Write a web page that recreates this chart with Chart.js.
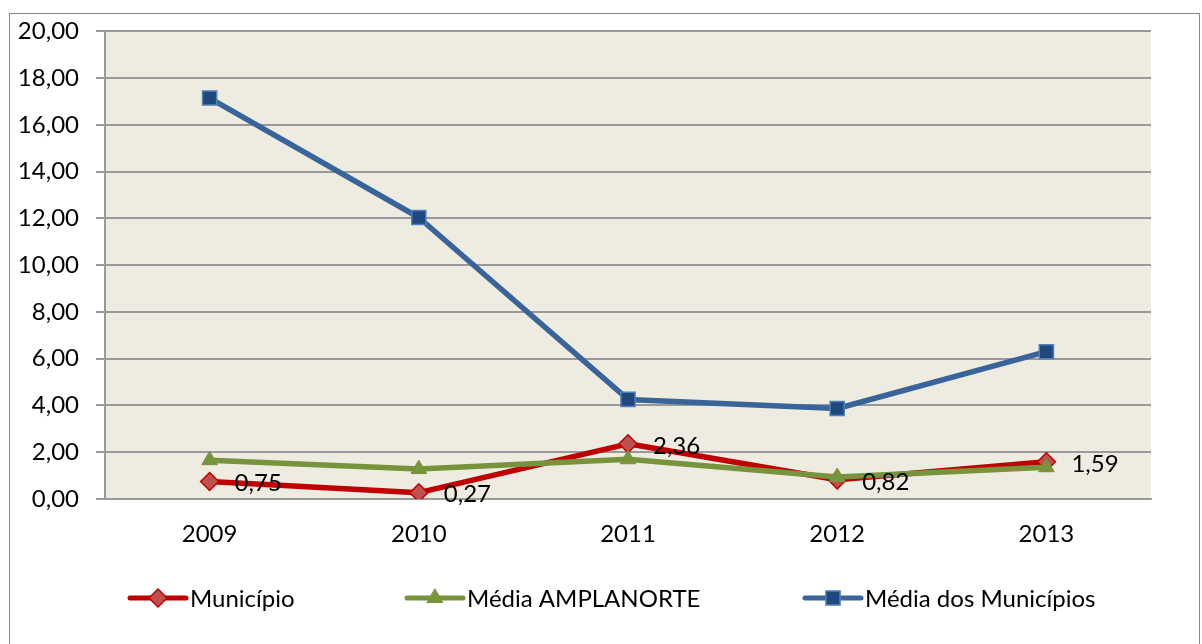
<!DOCTYPE html>
<html><head><meta charset="utf-8">
<script src="https://cdn.jsdelivr.net/npm/chart.js@4.4.1/dist/chart.umd.min.js"></script>
<style>html,body{margin:0;padding:0;background:#fff}#wrap{width:1202px;height:644px}</style>
</head><body><div id="wrap"><canvas id="c" width="1202" height="644"></canvas></div>
<script>
const categories = ['2009', '2010', '2011', '2012', '2013'];
const municipio = [0.75, 0.27, 2.36, 0.82, 1.59];
const mediaAmplanorte = [1.66, 1.28, 1.70, 0.94, 1.36];
const mediaMunicipios = [17.15, 12.04, 4.26, 3.87, 6.30];
const seriesNames = ['Município', 'Média AMPLANORTE', 'Média dos Municípios'];
const yMin = 0, yMax = 20, yStep = 2;

const FONT = 'Lato, "Open Sans", sans-serif';
const FS = 24;
const fmt = v => v.toFixed(2).replace('.', ',');

const bgPlugin = {
  id: 'bg',
  beforeDraw(chart) {
    const {ctx, chartArea: a} = chart;
    ctx.save();
    ctx.fillStyle = '#ffffff';
    ctx.fillRect(0, 0, chart.width, chart.height);
    ctx.fillStyle = '#EEECE1';
    ctx.fillRect(a.left, a.top, a.right - a.left, a.bottom - a.top);
    ctx.strokeStyle = '#8a8a8a';
    ctx.lineWidth = 1;
    ctx.strokeRect(9.5, 13.5, 1190, 700);
    ctx.restore();
  }
};

const labelPlugin = {
  id: 'dlabels',
  afterDatasetsDraw(chart) {
    const ctx = chart.ctx;
    const meta = chart.getDatasetMeta(0);
    const ds = chart.data.datasets[0];
    ctx.save();
    ctx.font = FS + 'px ' + FONT;
    ctx.fillStyle = '#000';
    ctx.textAlign = 'left';
    ctx.textBaseline = 'middle';
    meta.data.forEach((pt, i) => {
      ctx.fillText(fmt(ds.data[i]), pt.x + 25, pt.y + 2);
    });
    ctx.restore();
  }
};

const legendX = [130, 407, 805];
const legendPlugin = {
  id: 'customLegend',
  afterDraw(chart) {
    const ctx = chart.ctx;
    const y = 598;
    ctx.save();
    chart.data.datasets.forEach((ds, i) => {
      const x0 = legendX[i];
      ctx.strokeStyle = ds.borderColor;
      ctx.lineWidth = 5;
      ctx.lineCap = 'round';
      ctx.beginPath();
      ctx.moveTo(x0, y);
      ctx.lineTo(x0 + 56, y);
      ctx.stroke();
      ctx.fillStyle = ds.pointBackgroundColor;
      ctx.strokeStyle = ds.pointBorderColor;
      ctx.lineWidth = ds.pointBorderWidth;
      Chart.helpers.drawPoint(ctx, {pointStyle: ds.pointStyle, radius: ds.pointRadius, borderWidth: ds.pointBorderWidth, rotation: 0}, x0 + 28, y);
      ctx.fillStyle = '#000';
      ctx.font = FS + 'px ' + FONT;
      ctx.textAlign = 'left';
      ctx.textBaseline = 'middle';
      ctx.fillText(ds.label, x0 + 60, y + 1);
    });
    ctx.restore();
  }
};

new Chart(document.getElementById('c'), {
  type: 'line',
  data: {
    labels: categories,
    datasets: [
      {
        label: seriesNames[0], data: municipio, order: 3,
        borderColor: '#C00000', borderWidth: 5.5,
        pointStyle: 'rectRot', pointRadius: 9, pointBackgroundColor: '#C0504D', pointBorderColor: '#C00000', pointBorderWidth: 1.5,
        pointHoverRadius: 9
      },
      {
        label: seriesNames[1], data: mediaAmplanorte, order: 2,
        borderColor: '#77933C', borderWidth: 5.5,
        pointStyle: 'triangle', pointRadius: 9, pointBackgroundColor: '#77933C', pointBorderColor: '#77933C', pointBorderWidth: 1,
        pointHoverRadius: 9
      },
      {
        label: seriesNames[2], data: mediaMunicipios, order: 1,
        borderColor: '#38649A', borderWidth: 5.5,
        pointStyle: 'rect', pointRadius: 10, pointBackgroundColor: '#1F497D', pointBorderColor: '#4F81BD', pointBorderWidth: 1.5,
        pointHoverRadius: 10
      }
    ]
  },
  options: {
    responsive: false,
    animation: false,
    layout: {padding: {left: 0, top: 29, right: 51, bottom: 85}},
    elements: {line: {tension: 0, borderJoinStyle: 'round', borderCapStyle: 'round'}},
    plugins: {legend: {display: false}, tooltip: {enabled: false}},
    scales: {
      x: {
        offset: true,
        grid: {display: false, drawTicks: false},
        border: {display: true, color: '#999999', width: 2},
        ticks: {color: '#000', font: {family: FONT, size: FS}, padding: 21, maxRotation: 0},
        afterFit(s) { s.height = 60; }
      },
      y: {
        min: yMin, max: yMax,
        grid: {color: '#999999', lineWidth: 2, tickLength: 9, drawTicks: true},
        border: {display: true, color: '#999999', width: 2},
        ticks: {stepSize: yStep, color: '#000', font: {family: FONT, size: FS}, padding: 17, callback: v => fmt(v)},
        afterFit(s) { s.width = 105; }
      }
    }
  },
  plugins: [bgPlugin, labelPlugin, legendPlugin]
});
</script>
</body></html>
